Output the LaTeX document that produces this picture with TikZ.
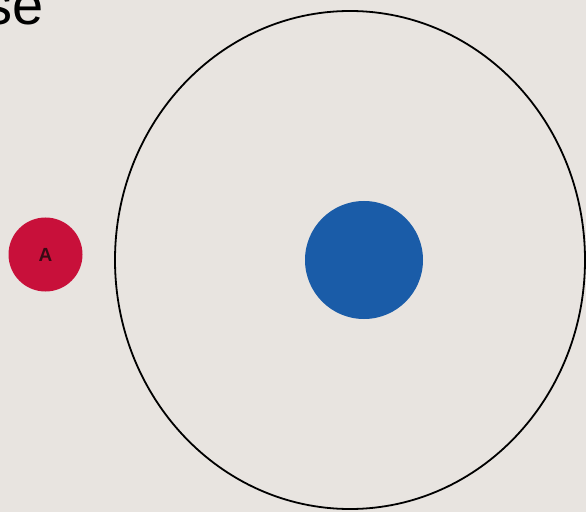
\documentclass[tikz,border=0pt]{standalone}
\usepackage{fontspec}
\setmainfont{Liberation Sans}
\definecolor{bg}{HTML}{E8E4E0}
\definecolor{redA}{HTML}{C8103A}
\definecolor{blueB}{HTML}{1A5CA8}
\definecolor{darkA}{HTML}{3A0A14}
\begin{document}
\begin{tikzpicture}[x=1pt,y=1pt,
  dot/.style={circle,inner sep=0pt,draw=none}]
\useasboundingbox (0,0) rectangle (586,512);
\fill[bg] (0,0) rectangle (586,512);
\clip (0,0) rectangle (586,512);
\node[anchor=base east,inner sep=0pt,font=\fontsize{56}{56}\selectfont] (title) at (44,487) {se};
\draw[line width=1.8pt,black] (350,252) ellipse [x radius=235, y radius=249];
\node[dot,fill=blueB,minimum size=118pt] (blue) at (364,252) {};
\node[dot,fill=redA,minimum size=74pt,text=darkA,font=\bfseries\fontsize{19}{19}\selectfont] (A) at (45.5,257.5) {A};
\end{tikzpicture}
\end{document}
